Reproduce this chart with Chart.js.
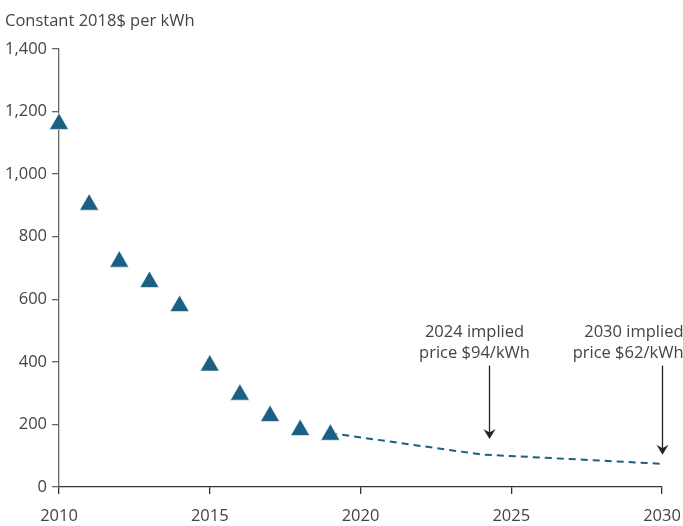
<!DOCTYPE html>
<html>
<head>
<meta charset="utf-8">
<script src="https://cdn.jsdelivr.net/npm/chart.js@4.4.1/dist/chart.umd.min.js"></script>
<style>
  html, body { margin: 0; padding: 0; background: #fff; }
  #wrap { width: 683px; height: 526px; }
</style>
</head>
<body>
<div id="wrap"><canvas id="chart" width="683" height="526"></canvas></div>
<script>
'use strict';

// battery pack prices, constant 2018$ per kWh
const histYears = [2010, 2011, 2012, 2013, 2014, 2015, 2016, 2017, 2018, 2019];
const histPrices = [1160, 902, 720, 655, 578, 388, 295, 227, 182, 167];

const projYears = [2019, 2024, 2030];
const projPrices = [172, 104, 74];

const yTicks = [0, 200, 400, 600, 800, 1000, 1200, 1400];
const xTicks = [2010, 2015, 2020, 2025, 2030];

const noteYears = [2024.25, 2030];
const noteTop = [388, 388];
const noteTip = [153, 103];
const noteLines = [
    ['2024 implied', 'price $94/kWh'],
    ['2030 implied', 'price $62/kWh']
];

const blue = '#1b5f82';
const textColor = '#444';
const fontFamily = '"Open Sans", sans-serif';
const fontSize = 16.5;

function toPoints(xs, ys) {
    let pts = [];
    for (let i = 0; i < xs.length; i++) {
        pts.push({ x: xs[i], y: ys[i] });
    }
    return pts;
}

// arrows + the two "implied price" notes
const notesPlugin = {
    id: 'notes',
    afterDatasetsDraw(chart) {
        const ctx = chart.ctx;
        const xs = chart.scales.x;
        const ys = chart.scales.y;
        ctx.save();
        for (let i = 0; i < noteYears.length; i++) {
            const px = Math.round(xs.getPixelForValue(noteYears[i])) + 0.5;
            const top = ys.getPixelForValue(noteTop[i]);
            const tip = ys.getPixelForValue(noteTip[i]);

            ctx.strokeStyle = '#222';
            ctx.lineWidth = 1.3;
            ctx.beginPath();
            ctx.moveTo(px, top);
            ctx.lineTo(px, tip - 6);
            ctx.stroke();

            ctx.fillStyle = '#222';
            ctx.beginPath();
            ctx.moveTo(px - 6, tip - 10);
            ctx.lineTo(px, tip - 6.5);
            ctx.lineTo(px + 6, tip - 10);
            ctx.lineTo(px, tip);
            ctx.closePath();
            ctx.fill();

            ctx.fillStyle = textColor;
            ctx.font = fontSize + 'px ' + fontFamily;
            ctx.textBaseline = 'middle';
            let tx;
            if (i === noteYears.length - 1) {
                ctx.textAlign = 'right';
                tx = px + 21;
            } else {
                ctx.textAlign = 'center';
                tx = px - 15;
            }
            ctx.fillText(noteLines[i][0], tx, top - 33);
            ctx.fillText(noteLines[i][1], tx, top - 12);
        }
        ctx.restore();
    }
};

function renderChart() {
    const canvasElem = document.getElementById('chart');

    const data = {
        datasets: [{
            type: 'line',
            label: 'Projection',
            data: toPoints(projYears, projPrices),
            borderColor: blue,
            borderWidth: 2,
            borderDash: [7, 5],
            pointRadius: 0,
            fill: false,
            tension: 0,
            order: 2
        },
        {
            type: 'scatter',
            label: 'Price',
            data: toPoints(histYears, histPrices),
            pointStyle: 'triangle',
            pointRadius: 11,
            pointHoverRadius: 11,
            backgroundColor: blue,
            borderColor: '#ffffff',
            borderWidth: 0.6,
            clip: false,
            order: 1
        }]
    };

    const config = {
        type: 'scatter',
        data: data,
        options: {
            responsive: false,
            animation: false,
            events: [],
            layout: {
                padding: { left: 5, right: 21, top: 0, bottom: 0 }
            },
            plugins: {
                legend: { display: false },
                tooltip: { enabled: false },
                title: {
                    display: true,
                    text: 'Constant 2018$ per kWh',
                    align: 'start',
                    color: textColor,
                    font: { family: fontFamily, size: fontSize, weight: 'normal' },
                    padding: { top: 11, bottom: 18 }
                }
            },
            scales: {
                x: {
                    type: 'linear',
                    min: 2010,
                    max: 2030,
                    afterBuildTicks: (s) => { s.ticks = xTicks.map(v => ({ value: v })); },
                    ticks: {
                        color: textColor,
                        font: { family: fontFamily, size: fontSize },
                        padding: 12,
                        maxRotation: 0,
                        callback: (v) => String(v)
                    },
                    grid: {
                        drawOnChartArea: false,
                        drawTicks: true,
                        tickLength: 7,
                        color: '#333',
                        lineWidth: 1.3
                    },
                    border: { display: true, color: '#333', width: 1.3 },
                    afterFit: (s) => {
                        s.height = 39;
                        s.paddingLeft = 0;
                        s.paddingRight = 0;
                    }
                },
                y: {
                    min: 0,
                    max: 1400,
                    afterBuildTicks: (s) => { s.ticks = yTicks.map(v => ({ value: v })); },
                    ticks: {
                        color: textColor,
                        font: { family: fontFamily, size: fontSize },
                        padding: 5,
                        callback: (v) => v.toLocaleString('en-US')
                    },
                    grid: {
                        drawOnChartArea: false,
                        drawTicks: true,
                        tickLength: 7,
                        color: '#666',
                        lineWidth: 1.3
                    },
                    border: { display: true, color: '#666', width: 1.3 },
                    afterFit: (s) => { s.width = 54; }
                }
            }
        },
        plugins: [notesPlugin]
    };

    new Chart(canvasElem, config);
}

renderChart();
</script>
</body>
</html>
